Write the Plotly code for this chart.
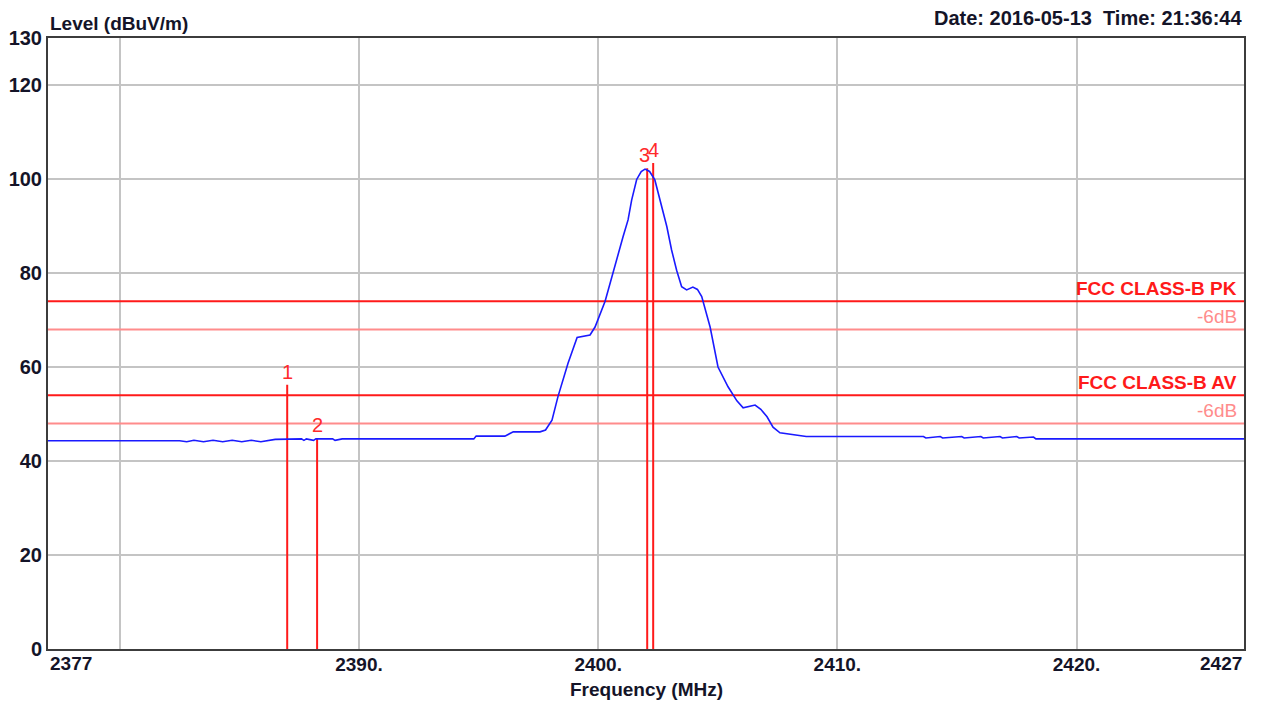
import plotly.graph_objects as go

# ---- data ----
freq_mhz = [2377.0, 2380.0, 2382.5, 2382.8, 2383.1, 2383.5, 2383.9, 2384.3, 2384.7,
            2385.1, 2385.5, 2385.9, 2386.5, 2387.6, 2387.7, 2387.8, 2388.1, 2388.2,
            2388.9, 2389.0, 2389.2, 2389.3, 2394.8, 2394.9, 2396.1, 2396.45, 2397.57,
            2397.8, 2398.07, 2398.32, 2398.74, 2399.12, 2399.66, 2399.87, 2400.29,
            2400.5, 2400.71, 2400.91, 2401.04, 2401.25, 2401.4, 2401.61, 2401.8,
            2401.96, 2402.15, 2402.37, 2402.58, 2402.87, 2403.07, 2403.28, 2403.49,
            2403.7, 2403.96, 2404.15, 2404.33, 2404.68, 2405.01, 2405.43, 2405.8,
            2406.06, 2406.56, 2406.8, 2407.06, 2407.31, 2407.6, 2408.0, 2408.3,
            2408.7, 2413.6, 2413.7, 2414.3, 2414.4, 2415.2, 2415.3, 2416.0, 2416.1,
            2416.8, 2416.9, 2417.5, 2417.6, 2418.2, 2418.3, 2427.0]
level_dbuv = [44.3, 44.3, 44.3, 44.1, 44.4, 44.1, 44.4, 44.1, 44.4,
              44.1, 44.4, 44.1, 44.6, 44.7, 44.4, 44.7, 44.4, 44.7,
              44.7, 44.4, 44.7, 44.7, 44.7, 45.3, 45.3, 46.2, 46.2,
              46.6, 48.7, 53.7, 60.8, 66.3, 66.8, 68.5, 74.0,
              77.9, 81.3, 85.6, 87.7, 91.3, 95.5, 99.9, 101.6,
              102.1, 101.6, 99.8, 95.5, 89.9, 84.9, 80.6, 77.1,
              76.4, 77.0, 76.5, 75.0, 68.5, 60.0, 55.8, 52.8,
              51.3, 51.9, 51.0, 49.4, 47.2, 46.0, 45.7, 45.5,
              45.2, 45.2, 44.9, 45.2, 44.9, 45.2, 44.9, 45.2, 44.9,
              45.2, 44.9, 45.2, 44.9, 45.1, 44.7, 44.7]

limit_names = ["FCC CLASS-B PK", "-6dB", "FCC CLASS-B AV", "-6dB"]
limit_levels = [74.0, 68.0, 54.0, 48.0]
limit_colors = ["#FF1A1A", "#FF8C8C", "#FF1A1A", "#FF8C8C"]
limit_bold = [True, False, True, False]

marker_labels = ["1", "2", "3", "4"]
marker_freq = [2387.0, 2388.25, 2402.05, 2402.3]
marker_level = [56.2, 44.9, 102.3, 103.4]
marker_xshift = [0, 0, -3, 0]

x_range = [2377, 2427]
y_range = [0, 130]
x_grid_vals = [2380, 2390, 2400, 2410, 2420]
x_grid_text = ["", "2390.", "2400.", "2410.", "2420."]
y_tick_vals = [0, 20, 40, 60, 80, 100, 120, 130]
y_tick_text = ["0", "20", "40", "60", "80", "100", "120", "130"]

FONT = "Liberation Sans, Arial, sans-serif"
TXT = "#141428"

fig = go.Figure()

# limit lines
for name, lv, col in zip(limit_names, limit_levels, limit_colors):
    fig.add_trace(go.Scatter(x=x_range, y=[lv, lv], mode="lines",
                             line=dict(color=col, width=2), hoverinfo="skip",
                             showlegend=False))

# marker lines
for lab, f, lv in zip(marker_labels, marker_freq, marker_level):
    fig.add_trace(go.Scatter(x=[f, f], y=[0, lv], mode="lines",
                             line=dict(color="#FF1A1A", width=2), hoverinfo="skip",
                             showlegend=False))

# measurement trace
fig.add_trace(go.Scatter(x=freq_mhz, y=level_dbuv, mode="lines",
                         line=dict(color="#1A1AFF", width=1.6), showlegend=False))

annotations = []
for name, lv, col, b in zip(limit_names, limit_levels, limit_colors, limit_bold):
    annotations.append(dict(x=x_range[1], y=lv, xref="x", yref="y", text=(f"<b>{name}</b>" if b else name),
                            xanchor="right", yanchor="bottom", xshift=-5, yshift=0,
                            showarrow=False, font=dict(family=FONT, size=19, color=col)))
for lab, f, lv, xs in zip(marker_labels, marker_freq, marker_level, marker_xshift):
    annotations.append(dict(x=f, y=lv, xref="x", yref="y", text=lab, xanchor="center",
                            yanchor="bottom", xshift=xs, yshift=0, showarrow=False,
                            font=dict(family=FONT, size=20, color="#FF2A2A")))
# end tick labels
annotations.append(dict(x=x_range[0], y=0, xref="x", yref="paper", text="<b>2377</b>",
                        xanchor="left", yanchor="top", yshift=-2, showarrow=False,
                        font=dict(family=FONT, size=19, color=TXT)))
annotations.append(dict(x=x_range[1], y=0, xref="x", yref="paper", text="<b>2427</b>",
                        xanchor="right", yanchor="top", yshift=-2, showarrow=False,
                        font=dict(family=FONT, size=19, color=TXT)))
annotations.append(dict(x=0.5, y=0, xref="paper", yref="paper", text="<b>Frequency (MHz)</b>",
                        xanchor="center", yanchor="top", yshift=-28, showarrow=False,
                        font=dict(family=FONT, size=19, color=TXT)))
annotations.append(dict(x=0, y=1, xref="paper", yref="paper", text="<b>Level (dBuV/m)</b>",
                        xanchor="left", yanchor="bottom", yshift=2, showarrow=False,
                        font=dict(family=FONT, size=19, color=TXT)))
annotations.append(dict(x=1, y=1, xref="paper", yref="paper",
                        text="<b>Date: 2016-05-13\u00a0\u00a0Time: 21:36:44</b>",
                        xanchor="right", yanchor="bottom", yshift=7, showarrow=False,
                        font=dict(family=FONT, size=20, color=TXT)))

fig.update_layout(
    width=1275, height=702,
    margin=dict(l=40, r=39, t=30, b=61),
    paper_bgcolor="white", plot_bgcolor="white",
    annotations=annotations,
    xaxis=dict(range=x_range, tickvals=x_grid_vals, ticktext=x_grid_text,
               showgrid=True, gridcolor="#C4C4C4", gridwidth=2,
               showline=True, linecolor="#3C3C3C", linewidth=2, mirror=True,
               zeroline=False, ticks="", automargin=False, ticklabelstandoff=-3,
               tickfont=dict(family=FONT, size=19, color=TXT, weight="bold")),
    yaxis=dict(range=y_range, tickvals=y_tick_vals, ticktext=y_tick_text,
               showgrid=True, gridcolor="#C4C4C4", gridwidth=2,
               showline=True, linecolor="#3C3C3C", linewidth=2, mirror=True,
               zeroline=False, ticks="", automargin=False,
               tickfont=dict(family=FONT, size=20, color=TXT, weight="bold")),
)

fig.write_html("out.html")
